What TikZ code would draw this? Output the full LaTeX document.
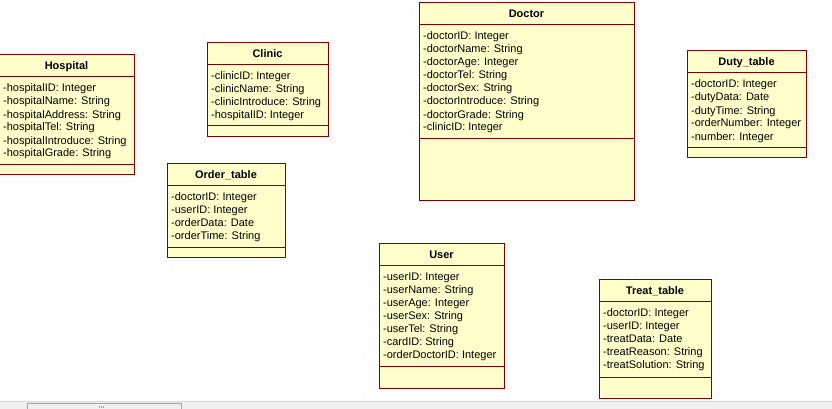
\documentclass[tikz,border=0pt]{standalone}
\usepackage{fontspec}
\setmainfont{Liberation Sans}
\definecolor{classfill}{RGB}{255,255,204}
\definecolor{classborder}{RGB}{128,0,0}
\definecolor{griddot}{RGB}{232,232,232}
\definecolor{barfill}{RGB}{240,240,240}
\definecolor{barline}{RGB}{160,160,160}

% name, left, top, right, second line, bottom, title, attributes
\newcommand{\umlclass}[8]{%
  \draw[classbox] (#2,#3) rectangle (#4,#6);
  \draw[classborder,line width=1pt] (#2,#3+22) -- (#4,#3+22);
  \draw[classborder,line width=1pt] (#2,#5) -- (#4,#5);
  \node[classtitle] (#1) at ({(#2+#4)/2},#3+15) {#7};
  \foreach \attr [count=\i] in {#8}
    \node[classattr] (#1-\i) at (#2+4,#3+24+13*\i) {\attr};
}

\begin{document}
\begin{tikzpicture}[x=1pt,y=-1pt,
  every node/.style={font=\fontsize{11}{13}\selectfont,inner sep=0pt},
  classbox/.style={draw=classborder,fill=classfill,line width=1pt},
  classtitle/.style={anchor=base,font=\fontsize{11}{13}\selectfont\bfseries},
  classattr/.style={anchor=base west}]
  \clip (0,0) rectangle (832,409);
  \fill[white] (0,0) rectangle (832,409);
  % grid
  \foreach \gy in {4,12,...,396}
    \draw[griddot,line width=1pt,dash pattern=on 1pt off 7pt] (3.5,\gy) -- (832,\gy);

  \umlclass{hospital}{-1}{55}{134}{164}{174}{Hospital}{
    -hospitalID: Integer,-hospitalName: String,-hospitalAddress: String,
    -hospitalTel: String,-hospitalIntroduce: String,-hospitalGrade: String}
  \umlclass{clinic}{207}{43}{328}{126}{136}{Clinic}{
    -clinicID: Integer,-clinicName: String,-clinicIntroduce: String,
    -hospitalID: Integer}
  \umlclass{order}{167}{163}{285}{247}{257}{Order\_table}{
    -doctorID: Integer,-userID: Integer,-orderData: Date,-orderTime: String}
  \umlclass{doctor}{419}{3}{634}{138}{200}{Doctor}{
    -doctorID: Integer,-doctorName: String,-doctorAge: Integer,
    -doctorTel: String,-doctorSex: String,-doctorIntroduce: String,
    -doctorGrade: String,-clinicID: Integer}
  \umlclass{duty}{687}{51}{806}{147}{157}{Duty\_table}{
    -doctorID: Integer,-dutyData: Date,-dutyTime: String,
    -orderNumber: Integer,-number: Integer}
  \umlclass{user}{379}{243}{504}{366}{388}{User}{
    -userID: Integer,-userName: String,-userAge: Integer,-userSex: String,
    -userTel: String,-cardID: String,-orderDoctorID: Integer}
  \umlclass{treat}{599}{279}{711}{377}{398}{Treat\_table}{
    -doctorID: Integer,-userID: Integer,-treatData: Date,
    -treatReason: String,-treatSolution: String}

  % scroll bar
  \fill[barfill] (0,401) rectangle (832,409);
  \draw[barline!40] (0,401) -- (832,401);
  \draw[barline,fill=barfill] (27,403.5) rectangle (181,412);
  \foreach \gx in {99,101,103}
    \fill[barline] (\gx-0.5,406) rectangle (\gx+0.5,408);
\end{tikzpicture}
\end{document}
